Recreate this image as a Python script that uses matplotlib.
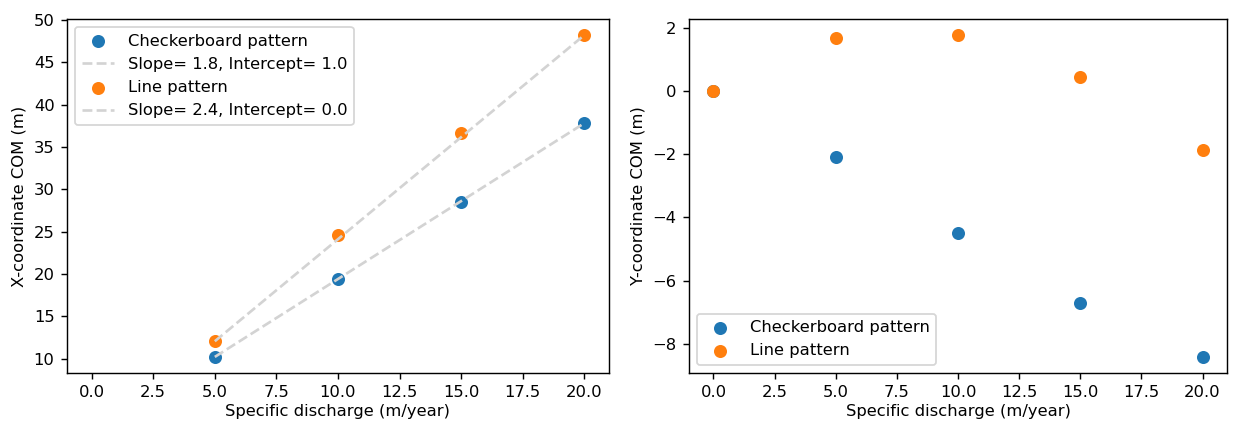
import numpy as np
import matplotlib
matplotlib.use("Agg")
import matplotlib.pyplot as plt

# Data
q_left = [5, 10, 15, 20]
x_checker = [10.2, 19.4, 28.5, 37.8]
x_line = [12.1, 24.6, 36.6, 48.2]
fit_slopes = [1.84, 2.41]
fit_intercepts = [1.0, 0.0]

q_right = [0, 5, 10, 15, 20]
y_checker = [0.0, -2.08, -4.5, -6.72, -8.42]
y_line = [0.0, 1.68, 1.78, 0.45, -1.86]

labels = ["Checkerboard pattern", "Line pattern"]
xticks = [0.0, 2.5, 5.0, 7.5, 10.0, 12.5, 15.0, 17.5, 20.0]

plt.rcParams['font.size'] = 9.2

dpi = 128
fig = plt.figure(figsize=(1233 / dpi, 423 / dpi), dpi=dpi)
W, H = 1233, 423
ax1 = fig.add_axes([67 / W, 1 - 373 / H, (609 - 67) / W, (373 - 19) / H])
ax2 = fig.add_axes([689 / W, 1 - 373 / H, (1227 - 689) / W, (373 - 19) / H])

# Left panel
qa = np.array(q_left, dtype=float)
ax1.scatter(q_left, x_checker, color="#1f77b4", s=40, label=labels[0])
ax1.plot(qa, fit_slopes[0] * qa + fit_intercepts[0], "--", color="lightgray",
         label=f"Slope= {fit_slopes[0]:.1f}, Intercept= {fit_intercepts[0]:.1f}")
ax1.scatter(q_left, x_line, color="#ff7f0e", s=40, label=labels[1])
ax1.plot(qa, fit_slopes[1] * qa + fit_intercepts[1], "--", color="lightgray",
         label=f"Slope= {fit_slopes[1]:.1f}, Intercept= {fit_intercepts[1]:.1f}")
ax1.set_xlim(-1, 21)
ax1.set_xticks(xticks)
ax1.set_xlabel("Specific discharge (m/year)", labelpad=2)
ax1.set_ylabel("X-coordinate COM (m)")
ax1.legend(loc="upper left")

# Right panel
ax2.scatter(q_right, y_checker, color="#1f77b4", s=40, label=labels[0])
ax2.scatter(q_right, y_line, color="#ff7f0e", s=40, label=labels[1])
ax2.set_xticks(xticks)
ax2.set_xlabel("Specific discharge (m/year)", labelpad=2)
ax2.set_ylabel("Y-coordinate COM (m)")
ax2.legend(loc="lower left")

fig.savefig("out.png", dpi=dpi)
